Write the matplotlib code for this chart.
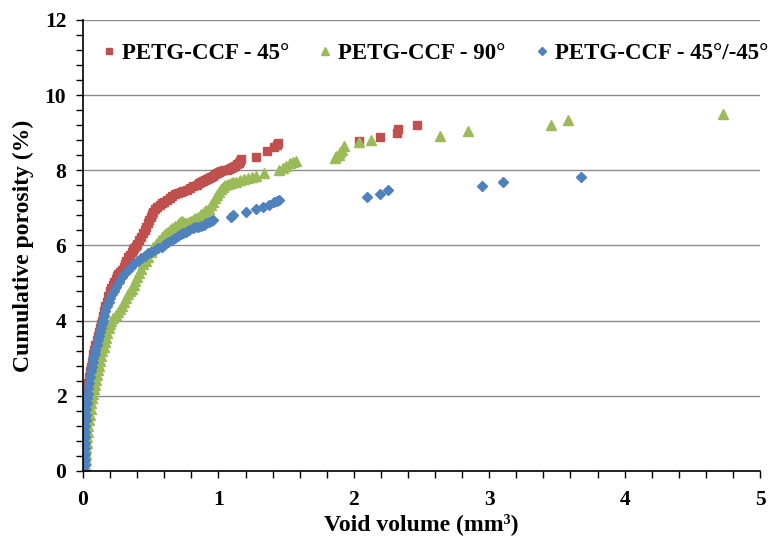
import matplotlib
matplotlib.use("Agg")
import matplotlib.pyplot as plt
from matplotlib.ticker import MultipleLocator

# ---- data ----
red_x = [0.008, 0.009, 0.010, 0.011, 0.012, 0.013, 0.014, 0.015, 0.016, 0.018, 0.019, 0.021,
         0.024, 0.027, 0.031, 0.035, 0.040, 0.045, 0.051, 0.057, 0.063, 0.070, 0.077, 0.084,
         0.092, 0.100, 0.107, 0.115, 0.122, 0.130, 0.137, 0.146, 0.155, 0.165, 0.175, 0.187,
         0.20, 0.21, 0.22, 0.23, 0.24, 0.25, 0.26, 0.275, 0.29, 0.30, 0.31, 0.32, 0.33, 0.345,
         0.36, 0.37, 0.38, 0.39, 0.40, 0.415, 0.43, 0.443, 0.455, 0.468, 0.48, 0.49, 0.50,
         0.51, 0.52, 0.535, 0.55, 0.565, 0.58, 0.60, 0.62, 0.64, 0.66, 0.68, 0.70, 0.72, 0.74,
         0.765, 0.79, 0.815, 0.84, 0.855, 0.87, 0.885, 0.90, 0.915, 0.93, 0.945, 0.96, 0.975,
         0.99, 1.005, 1.02, 1.04, 1.06, 1.075, 1.09, 1.105, 1.12, 1.135, 1.15, 1.16, 1.17,
         1.28, 1.36, 1.41, 1.43, 1.44, 2.04, 2.19, 2.32, 2.33, 2.47]
red_y = [0.0, 0.15, 0.3, 0.45, 0.6, 0.75, 0.9, 1.05, 1.2, 1.35, 1.5, 1.65,
         1.8, 1.93, 2.05, 2.2, 2.35, 2.5, 2.65, 2.78, 2.9, 3.0, 3.1, 3.22,
         3.35, 3.48, 3.6, 3.7, 3.8, 3.9, 4.0, 4.12, 4.25, 4.38, 4.5, 4.65,
         4.8, 4.88, 4.95, 5.03, 5.1, 5.18, 5.25, 5.3, 5.35, 5.43, 5.5, 5.6, 5.7, 5.76,
         5.82, 5.88, 5.93, 5.99, 6.05, 6.14, 6.23, 6.32, 6.4, 6.5, 6.59, 6.67, 6.75,
         6.83, 6.90, 6.97, 7.03, 7.08, 7.12, 7.17, 7.22, 7.27, 7.32, 7.36, 7.39, 7.42, 7.45,
         7.48, 7.52, 7.57, 7.61, 7.65, 7.68, 7.71, 7.74, 7.77, 7.80, 7.83, 7.85, 7.89,
         7.92, 7.95, 7.97, 8.0, 8.02, 8.04, 8.06, 8.09, 8.12, 8.16, 8.19, 8.24, 8.29,
         8.36, 8.52, 8.63, 8.68, 8.74, 8.78, 8.88, 9.0, 9.1, 9.21]

green_x = [0.015, 0.017, 0.02, 0.022, 0.025, 0.028, 0.032, 0.036, 0.040, 0.045, 0.050, 0.056,
           0.062, 0.068, 0.075, 0.081, 0.088, 0.095, 0.102, 0.110, 0.118, 0.126, 0.135, 0.143,
           0.152, 0.161, 0.170, 0.18, 0.19, 0.20, 0.21, 0.225, 0.24, 0.255, 0.27, 0.285, 0.30,
           0.315, 0.33, 0.345, 0.36, 0.373, 0.385, 0.397, 0.41, 0.428, 0.445, 0.463, 0.48, 0.50,
           0.52, 0.54, 0.56, 0.58, 0.60, 0.615, 0.63, 0.645, 0.66, 0.68, 0.70, 0.715, 0.73,
           0.74, 0.75, 0.765, 0.78, 0.795, 0.81, 0.83, 0.85, 0.87, 0.89, 0.91, 0.93, 0.945,
           0.96, 0.975, 0.99, 1.005, 1.02, 1.035, 1.05, 1.07, 1.09, 1.11, 1.13, 1.16, 1.19,
           1.22, 1.25, 1.28, 1.34, 1.45, 1.48, 1.50, 1.53, 1.55, 1.57, 1.86, 1.87, 1.89, 1.90,
           1.91, 1.93, 2.04, 2.13, 2.64, 2.84, 3.46, 3.58, 4.73]
green_y = [0.0, 0.15, 0.3, 0.45, 0.6, 0.75, 0.9, 1.05, 1.2, 1.35, 1.5, 1.65,
           1.8, 1.93, 2.05, 2.18, 2.3, 2.43, 2.55, 2.68, 2.8, 2.93, 3.05, 3.18,
           3.3, 3.43, 3.55, 3.68, 3.8, 3.9, 4.0, 4.08, 4.15, 4.22, 4.3, 4.4, 4.5,
           4.6, 4.7, 4.78, 4.85, 4.95, 5.05, 5.15, 5.26, 5.38, 5.5, 5.6, 5.70, 5.83,
           5.95, 6.05, 6.15, 6.22, 6.28, 6.33, 6.37, 6.42, 6.46, 6.52, 6.58, 6.62, 6.65,
           6.63, 6.6, 6.61, 6.62, 6.65, 6.68, 6.72, 6.77, 6.84, 6.90, 6.94, 6.98, 7.08,
           7.17, 7.26, 7.34, 7.42, 7.50, 7.56, 7.60, 7.63, 7.66, 7.68, 7.70, 7.74, 7.77,
           7.79, 7.82, 7.85, 7.92, 8.01, 8.07, 8.12, 8.19, 8.22, 8.25, 8.32, 8.37, 8.42, 8.48,
           8.54, 8.65, 8.76, 8.81, 8.91, 9.05, 9.20, 9.34, 9.51]

blue_x = [0.010, 0.011, 0.012, 0.0125, 0.013, 0.014, 0.015, 0.016, 0.017, 0.019, 0.021, 0.024,
          0.027, 0.031, 0.035, 0.040, 0.045, 0.051, 0.057, 0.063, 0.070, 0.077, 0.085, 0.092,
          0.100, 0.107, 0.115, 0.122, 0.130, 0.137, 0.145, 0.155, 0.165, 0.177, 0.19, 0.20,
          0.215, 0.23, 0.245, 0.265, 0.29, 0.31, 0.33, 0.355, 0.38, 0.405, 0.43, 0.455, 0.48,
          0.505, 0.53, 0.555, 0.58, 0.605, 0.63, 0.655, 0.68, 0.70, 0.72, 0.74, 0.76, 0.785,
          0.81, 0.83, 0.85, 0.87, 0.89, 0.91, 0.93, 0.945, 0.96, 1.09, 1.11, 1.20, 1.28, 1.33,
          1.37, 1.41, 1.43, 1.45, 2.10, 2.19, 2.25, 2.95, 3.10, 3.68]
blue_y = [0.0, 0.15, 0.3, 0.45, 0.6, 0.75, 0.9, 1.05, 1.2, 1.35, 1.5, 1.65,
          1.8, 1.93, 2.05, 2.2, 2.35, 2.5, 2.65, 2.78, 2.9, 3.0, 3.1, 3.22,
          3.35, 3.48, 3.6, 3.7, 3.8, 3.9, 4.0, 4.12, 4.25, 4.38, 4.5, 4.6,
          4.7, 4.8, 4.9, 5.03, 5.17, 5.26, 5.35, 5.44, 5.53, 5.6, 5.67, 5.73, 5.79,
          5.84, 5.88, 5.93, 5.97, 6.03, 6.08, 6.14, 6.19, 6.25, 6.30, 6.34, 6.37, 6.42,
          6.46, 6.48, 6.50, 6.52, 6.55, 6.59, 6.62, 6.65, 6.68, 6.77, 6.82, 6.88, 6.96, 7.03,
          7.08, 7.15, 7.18, 7.21, 7.30, 7.36, 7.48, 7.59, 7.70, 7.83]

labels = ["PETG-CCF - 45°", "PETG-CCF - 90°", "PETG-CCF - 45°/-45°"]
x_ticks = [0, 1, 2, 3, 4, 5]
y_ticks = [0, 2, 4, 6, 8, 10, 12]

plt.rcParams['font.family'] = ['Liberation Serif', 'DejaVu Serif']
plt.rcParams['font.weight'] = 'bold'

fig = plt.figure(figsize=(7.71, 5.43), dpi=100)
ax = fig.add_axes([0.1077, 0.1326, 0.878, 0.8306])

ax.plot(red_x, red_y, ls='none', marker='s', ms=6, color='#C0504D', label=labels[0])
ax.plot(green_x, green_y, ls='none', marker='^', ms=7, color='#9BBB59', label=labels[1])
ax.plot(blue_x, blue_y, ls='none', marker='D', ms=5.5, color='#4F81BD', label=labels[2])

ax.set_xlim(0, 5)
ax.set_ylim(0, 12)
ax.set_xticks(x_ticks)
ax.set_yticks(y_ticks)
ax.xaxis.set_minor_locator(MultipleLocator(0.2))
ax.yaxis.set_minor_locator(MultipleLocator(0.4))
ax.tick_params(which='both', direction='out', length=5, width=1, color='black')
ax.tick_params(axis='y', which='major', labelsize=15.5, pad=7)
ax.tick_params(axis='x', which='major', labelsize=15.5, pad=9)
for lab in ax.get_xticklabels() + ax.get_yticklabels():
    lab.set_fontweight('bold')

ax.yaxis.grid(True, which='major', color='#8c8c8c', lw=1)
ax.set_axisbelow(True)
for s in ['top', 'right']:
    ax.spines[s].set_visible(False)
for s in ['left', 'bottom']:
    ax.spines[s].set_linewidth(1.2)
    ax.spines[s].set_color('black')

ax.set_xlabel('Void volume (mm³)', fontsize=17, fontweight='bold', labelpad=2)
ax.set_ylabel('Cumulative porosity (%)', fontsize=17, fontweight='bold', labelpad=8)

leg = ax.legend(loc='center right', bbox_to_anchor=(1.012, 0.925), ncol=3, frameon=False,
                fontsize=16.5, handletextpad=0.2, columnspacing=1.25, markerscale=0.8,
                handlelength=0.7, borderaxespad=0.0, borderpad=0.0)
for t in leg.get_texts():
    t.set_fontweight('bold')

fig.savefig('out.png', dpi=100)
